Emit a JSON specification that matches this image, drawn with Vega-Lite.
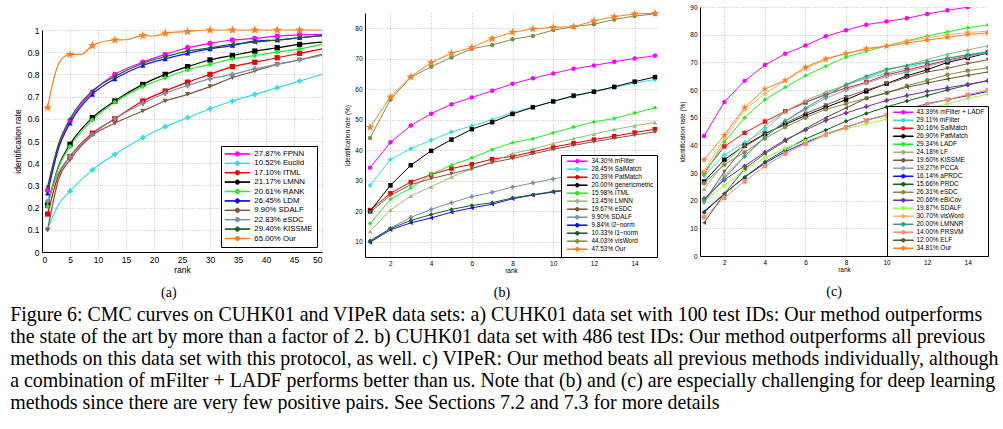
{
  "$schema": "https://vega.github.io/schema/vega-lite/v6.json",
  "padding": {"left": 10, "top": 4, "right": 0, "bottom": 0},
  "background": "white",
  "spacing": 19,
  "resolve": {"scale": {"color": "independent", "shape": "independent", "x": "independent", "y": "independent"}, "legend": {"color": "independent", "shape": "independent"}},
  "title": {
    "text": [
      "Figure 6: CMC curves on CUHK01 and VIPeR data sets: a) CUHK01 data set with 100 test IDs: Our method outperforms",
      "the state of the art by more than a factor of 2. b) CUHK01 data set with 486 test IDs: Our method outperforms all previous",
      "methods on this data set with this protocol, as well. c) VIPeR: Our method beats all previous methods individually, although",
      "a combination of mFilter + LADF performs better than us. Note that (b) and (c) are especially challenging for deep learning",
      "methods since there are very few positive pairs. See Sections 7.2 and 7.3 for more details"
    ],
    "orient": "bottom",
    "anchor": "start",
    "font": "Liberation Serif",
    "fontSize": 19.9,
    "fontWeight": "normal",
    "lineHeight": 22,
    "offset": 5,
    "dx": -3,
    "color": "black"
  },
  "config": {
    "view": {"stroke": null},
    "axis": {
      "labelFont": "Liberation Sans",
      "titleFont": "Liberation Sans",
      "titleFontWeight": "normal",
      "labelColor": "black",
      "titleColor": "black",
      "domainColor": "black",
      "tickColor": "black",
      "ticks": false,
      "gridColor": "#aaaaaa",
      "gridDash": [1, 2],
      "gridWidth": 0.8,
      "labelPadding": 3
    },
    "legend": {
      "labelFont": "Liberation Sans",
      "labelColor": "black",
      "fillColor": "white",
      "strokeColor": "black",
      "labelLimit": 0,
      "symbolStrokeWidth": 1
    }
  },
  "datasets": {
    "a": [
      {"method":"27.87% FPNN","rank":1,"rate":0.2787},{"method":"27.87% FPNN","rank":3,"rate":0.48},{"method":"27.87% FPNN","rank":5,"rate":0.59},{"method":"27.87% FPNN","rank":9,"rate":0.72},{"method":"27.87% FPNN","rank":13,"rate":0.8},{"method":"27.87% FPNN","rank":18,"rate":0.855},{"method":"27.87% FPNN","rank":22,"rate":0.89},{"method":"27.87% FPNN","rank":26,"rate":0.92},{"method":"27.87% FPNN","rank":30,"rate":0.94},{"method":"27.87% FPNN","rank":34,"rate":0.955},{"method":"27.87% FPNN","rank":38,"rate":0.962},{"method":"27.87% FPNN","rank":42,"rate":0.972},{"method":"27.87% FPNN","rank":46,"rate":0.978},{"method":"27.87% FPNN","rank":50,"rate":0.98},
      {"method":"10.52% Euclid","rank":1,"rate":0.1052},{"method":"10.52% Euclid","rank":3,"rate":0.215},{"method":"10.52% Euclid","rank":5,"rate":0.275},{"method":"10.52% Euclid","rank":9,"rate":0.37},{"method":"10.52% Euclid","rank":13,"rate":0.44},{"method":"10.52% Euclid","rank":18,"rate":0.515},{"method":"10.52% Euclid","rank":22,"rate":0.565},{"method":"10.52% Euclid","rank":26,"rate":0.605},{"method":"10.52% Euclid","rank":30,"rate":0.645},{"method":"10.52% Euclid","rank":34,"rate":0.68},{"method":"10.52% Euclid","rank":38,"rate":0.71},{"method":"10.52% Euclid","rank":42,"rate":0.74},{"method":"10.52% Euclid","rank":46,"rate":0.77},{"method":"10.52% Euclid","rank":50,"rate":0.8},
      {"method":"17.10% ITML","rank":1,"rate":0.171},{"method":"17.10% ITML","rank":3,"rate":0.35},{"method":"17.10% ITML","rank":5,"rate":0.43},{"method":"17.10% ITML","rank":9,"rate":0.535},{"method":"17.10% ITML","rank":13,"rate":0.6},{"method":"17.10% ITML","rank":18,"rate":0.68},{"method":"17.10% ITML","rank":22,"rate":0.725},{"method":"17.10% ITML","rank":26,"rate":0.765},{"method":"17.10% ITML","rank":30,"rate":0.8},{"method":"17.10% ITML","rank":34,"rate":0.835},{"method":"17.10% ITML","rank":38,"rate":0.855},{"method":"17.10% ITML","rank":42,"rate":0.875},{"method":"17.10% ITML","rank":46,"rate":0.895},{"method":"17.10% ITML","rank":50,"rate":0.915},
      {"method":"21.17% LMNN","rank":1,"rate":0.2117},{"method":"21.17% LMNN","rank":3,"rate":0.39},{"method":"21.17% LMNN","rank":5,"rate":0.485},{"method":"21.17% LMNN","rank":9,"rate":0.605},{"method":"21.17% LMNN","rank":13,"rate":0.68},{"method":"21.17% LMNN","rank":18,"rate":0.755},{"method":"21.17% LMNN","rank":22,"rate":0.8},{"method":"21.17% LMNN","rank":26,"rate":0.835},{"method":"21.17% LMNN","rank":30,"rate":0.865},{"method":"21.17% LMNN","rank":34,"rate":0.885},{"method":"21.17% LMNN","rank":38,"rate":0.905},{"method":"21.17% LMNN","rank":42,"rate":0.92},{"method":"21.17% LMNN","rank":46,"rate":0.935},{"method":"21.17% LMNN","rank":50,"rate":0.945},
      {"method":"20.61% RANK","rank":1,"rate":0.2061},{"method":"20.61% RANK","rank":3,"rate":0.385},{"method":"20.61% RANK","rank":5,"rate":0.475},{"method":"20.61% RANK","rank":9,"rate":0.595},{"method":"20.61% RANK","rank":13,"rate":0.675},{"method":"20.61% RANK","rank":18,"rate":0.745},{"method":"20.61% RANK","rank":22,"rate":0.785},{"method":"20.61% RANK","rank":26,"rate":0.82},{"method":"20.61% RANK","rank":30,"rate":0.845},{"method":"20.61% RANK","rank":34,"rate":0.87},{"method":"20.61% RANK","rank":38,"rate":0.885},{"method":"20.61% RANK","rank":42,"rate":0.9},{"method":"20.61% RANK","rank":46,"rate":0.915},{"method":"20.61% RANK","rank":50,"rate":0.935},
      {"method":"26.45% LDM","rank":1,"rate":0.2645},{"method":"26.45% LDM","rank":3,"rate":0.47},{"method":"26.45% LDM","rank":5,"rate":0.58},{"method":"26.45% LDM","rank":9,"rate":0.71},{"method":"26.45% LDM","rank":13,"rate":0.78},{"method":"26.45% LDM","rank":18,"rate":0.84},{"method":"26.45% LDM","rank":22,"rate":0.87},{"method":"26.45% LDM","rank":26,"rate":0.895},{"method":"26.45% LDM","rank":30,"rate":0.915},{"method":"26.45% LDM","rank":34,"rate":0.93},{"method":"26.45% LDM","rank":38,"rate":0.95},{"method":"26.45% LDM","rank":42,"rate":0.955},{"method":"26.45% LDM","rank":46,"rate":0.965},{"method":"26.45% LDM","rank":50,"rate":0.975},
      {"method":" 9.90% SDALF","rank":1,"rate":0.099},{"method":" 9.90% SDALF","rank":3,"rate":0.33},{"method":" 9.90% SDALF","rank":5,"rate":0.415},{"method":" 9.90% SDALF","rank":9,"rate":0.525},{"method":" 9.90% SDALF","rank":13,"rate":0.58},{"method":" 9.90% SDALF","rank":18,"rate":0.635},{"method":" 9.90% SDALF","rank":22,"rate":0.68},{"method":" 9.90% SDALF","rank":26,"rate":0.71},{"method":" 9.90% SDALF","rank":30,"rate":0.745},{"method":" 9.90% SDALF","rank":34,"rate":0.785},{"method":" 9.90% SDALF","rank":38,"rate":0.815},{"method":" 9.90% SDALF","rank":42,"rate":0.845},{"method":" 9.90% SDALF","rank":46,"rate":0.865},{"method":" 9.90% SDALF","rank":50,"rate":0.89},
      {"method":"22.83% eSDC","rank":1,"rate":0.2283},{"method":"22.83% eSDC","rank":3,"rate":0.36},{"method":"22.83% eSDC","rank":5,"rate":0.43},{"method":"22.83% eSDC","rank":9,"rate":0.53},{"method":"22.83% eSDC","rank":13,"rate":0.6},{"method":"22.83% eSDC","rank":18,"rate":0.67},{"method":"22.83% eSDC","rank":22,"rate":0.715},{"method":"22.83% eSDC","rank":26,"rate":0.75},{"method":"22.83% eSDC","rank":30,"rate":0.78},{"method":"22.83% eSDC","rank":34,"rate":0.8},{"method":"22.83% eSDC","rank":38,"rate":0.825},{"method":"22.83% eSDC","rank":42,"rate":0.845},{"method":"22.83% eSDC","rank":46,"rate":0.865},{"method":"22.83% eSDC","rank":50,"rate":0.885},
      {"method":"29.40% KISSME","rank":1,"rate":0.294},{"method":"29.40% KISSME","rank":3,"rate":0.49},{"method":"29.40% KISSME","rank":5,"rate":0.6},{"method":"29.40% KISSME","rank":9,"rate":0.725},{"method":"29.40% KISSME","rank":13,"rate":0.79},{"method":"29.40% KISSME","rank":18,"rate":0.85},{"method":"29.40% KISSME","rank":22,"rate":0.88},{"method":"29.40% KISSME","rank":26,"rate":0.905},{"method":"29.40% KISSME","rank":30,"rate":0.92},{"method":"29.40% KISSME","rank":34,"rate":0.935},{"method":"29.40% KISSME","rank":38,"rate":0.945},{"method":"29.40% KISSME","rank":42,"rate":0.955},{"method":"29.40% KISSME","rank":46,"rate":0.965},{"method":"29.40% KISSME","rank":50,"rate":0.975},
      {"method":"65.00% Our","rank":1,"rate":0.65},{"method":"65.00% Our","rank":2,"rate":0.77},{"method":"65.00% Our","rank":3,"rate":0.85},{"method":"65.00% Our","rank":4,"rate":0.88},{"method":"65.00% Our","rank":5,"rate":0.89},{"method":"65.00% Our","rank":7,"rate":0.89},{"method":"65.00% Our","rank":9,"rate":0.93},{"method":"65.00% Our","rank":13,"rate":0.955},{"method":"65.00% Our","rank":15,"rate":0.956},{"method":"65.00% Our","rank":18,"rate":0.975},{"method":"65.00% Our","rank":20,"rate":0.973},{"method":"65.00% Our","rank":22,"rate":0.985},{"method":"65.00% Our","rank":26,"rate":0.993},{"method":"65.00% Our","rank":30,"rate":1.0},{"method":"65.00% Our","rank":34,"rate":1.0},{"method":"65.00% Our","rank":38,"rate":1.0},{"method":"65.00% Our","rank":42,"rate":1.0},{"method":"65.00% Our","rank":46,"rate":1.0},{"method":"65.00% Our","rank":50,"rate":1.0}
    ],
    "b": [
      {"method":"34.30% mFilter","rank":1,"rate":34.3},{"method":"34.30% mFilter","rank":2,"rate":42.6},{"method":"34.30% mFilter","rank":3,"rate":48.1},{"method":"34.30% mFilter","rank":4,"rate":52.0},{"method":"34.30% mFilter","rank":5,"rate":55.1},{"method":"34.30% mFilter","rank":6,"rate":57.3},{"method":"34.30% mFilter","rank":7,"rate":59.5},{"method":"34.30% mFilter","rank":8,"rate":61.8},{"method":"34.30% mFilter","rank":9,"rate":63.6},{"method":"34.30% mFilter","rank":10,"rate":65.2},{"method":"34.30% mFilter","rank":11,"rate":66.7},{"method":"34.30% mFilter","rank":12,"rate":67.8},{"method":"34.30% mFilter","rank":13,"rate":69.0},{"method":"34.30% mFilter","rank":14,"rate":70.1},{"method":"34.30% mFilter","rank":15,"rate":71.0},
      {"method":"28.45% SalMatch","rank":1,"rate":28.45},{"method":"28.45% SalMatch","rank":2,"rate":37.0},{"method":"28.45% SalMatch","rank":3,"rate":40.5},{"method":"28.45% SalMatch","rank":4,"rate":43.3},{"method":"28.45% SalMatch","rank":5,"rate":46.0},{"method":"28.45% SalMatch","rank":6,"rate":48.0},{"method":"28.45% SalMatch","rank":7,"rate":50.0},{"method":"28.45% SalMatch","rank":8,"rate":52.4},{"method":"28.45% SalMatch","rank":9,"rate":54.2},{"method":"28.45% SalMatch","rank":10,"rate":56.0},{"method":"28.45% SalMatch","rank":11,"rate":57.6},{"method":"28.45% SalMatch","rank":12,"rate":59.2},{"method":"28.45% SalMatch","rank":13,"rate":60.6},{"method":"28.45% SalMatch","rank":14,"rate":62.0},{"method":"28.45% SalMatch","rank":15,"rate":63.2},
      {"method":"20.39% PatMatch","rank":1,"rate":20.39},{"method":"20.39% PatMatch","rank":2,"rate":25.9},{"method":"20.39% PatMatch","rank":3,"rate":29.6},{"method":"20.39% PatMatch","rank":4,"rate":32.0},{"method":"20.39% PatMatch","rank":5,"rate":34.0},{"method":"20.39% PatMatch","rank":6,"rate":35.4},{"method":"20.39% PatMatch","rank":7,"rate":37.1},{"method":"20.39% PatMatch","rank":8,"rate":38.0},{"method":"20.39% PatMatch","rank":9,"rate":39.5},{"method":"20.39% PatMatch","rank":10,"rate":41.0},{"method":"20.39% PatMatch","rank":11,"rate":42.3},{"method":"20.39% PatMatch","rank":12,"rate":43.5},{"method":"20.39% PatMatch","rank":13,"rate":44.6},{"method":"20.39% PatMatch","rank":14,"rate":45.8},{"method":"20.39% PatMatch","rank":15,"rate":46.9},
      {"method":"20.00% genericmetric","rank":1,"rate":20.0},{"method":"20.00% genericmetric","rank":2,"rate":28.5},{"method":"20.00% genericmetric","rank":3,"rate":35.1},{"method":"20.00% genericmetric","rank":4,"rate":39.8},{"method":"20.00% genericmetric","rank":5,"rate":43.5},{"method":"20.00% genericmetric","rank":6,"rate":46.9},{"method":"20.00% genericmetric","rank":7,"rate":49.2},{"method":"20.00% genericmetric","rank":8,"rate":51.9},{"method":"20.00% genericmetric","rank":9,"rate":54.1},{"method":"20.00% genericmetric","rank":10,"rate":56.0},{"method":"20.00% genericmetric","rank":11,"rate":57.9},{"method":"20.00% genericmetric","rank":12,"rate":59.2},{"method":"20.00% genericmetric","rank":13,"rate":60.8},{"method":"20.00% genericmetric","rank":14,"rate":62.5},{"method":"20.00% genericmetric","rank":15,"rate":64.0},
      {"method":"15.98% ITML","rank":1,"rate":15.98},{"method":"15.98% ITML","rank":2,"rate":23.9},{"method":"15.98% ITML","rank":3,"rate":27.6},{"method":"15.98% ITML","rank":4,"rate":32.1},{"method":"15.98% ITML","rank":5,"rate":35.1},{"method":"15.98% ITML","rank":6,"rate":37.5},{"method":"15.98% ITML","rank":7,"rate":40.2},{"method":"15.98% ITML","rank":8,"rate":42.5},{"method":"15.98% ITML","rank":9,"rate":43.8},{"method":"15.98% ITML","rank":10,"rate":45.7},{"method":"15.98% ITML","rank":11,"rate":47.6},{"method":"15.98% ITML","rank":12,"rate":49.3},{"method":"15.98% ITML","rank":13,"rate":50.4},{"method":"15.98% ITML","rank":14,"rate":52.2},{"method":"15.98% ITML","rank":15,"rate":53.9},
      {"method":"13.45% LMNN","rank":1,"rate":13.45},{"method":"13.45% LMNN","rank":2,"rate":20.4},{"method":"13.45% LMNN","rank":3,"rate":25.0},{"method":"13.45% LMNN","rank":4,"rate":28.0},{"method":"13.45% LMNN","rank":5,"rate":31.2},{"method":"13.45% LMNN","rank":6,"rate":33.9},{"method":"13.45% LMNN","rank":7,"rate":36.2},{"method":"13.45% LMNN","rank":8,"rate":38.9},{"method":"13.45% LMNN","rank":9,"rate":40.4},{"method":"13.45% LMNN","rank":10,"rate":42.2},{"method":"13.45% LMNN","rank":11,"rate":43.8},{"method":"13.45% LMNN","rank":12,"rate":45.3},{"method":"13.45% LMNN","rank":13,"rate":46.8},{"method":"13.45% LMNN","rank":14,"rate":48.0},{"method":"13.45% LMNN","rank":15,"rate":49.1},
      {"method":"19.67% eSDC","rank":1,"rate":19.67},{"method":"19.67% eSDC","rank":2,"rate":25.2},{"method":"19.67% eSDC","rank":3,"rate":28.7},{"method":"19.67% eSDC","rank":4,"rate":30.7},{"method":"19.67% eSDC","rank":5,"rate":32.3},{"method":"19.67% eSDC","rank":6,"rate":34.0},{"method":"19.67% eSDC","rank":7,"rate":36.0},{"method":"19.67% eSDC","rank":8,"rate":37.3},{"method":"19.67% eSDC","rank":9,"rate":38.8},{"method":"19.67% eSDC","rank":10,"rate":40.3},{"method":"19.67% eSDC","rank":11,"rate":41.6},{"method":"19.67% eSDC","rank":12,"rate":42.8},{"method":"19.67% eSDC","rank":13,"rate":43.9},{"method":"19.67% eSDC","rank":14,"rate":45.0},{"method":"19.67% eSDC","rank":15,"rate":46.0},
      {"method":" 9.90% SDALF","rank":1,"rate":9.9},{"method":" 9.90% SDALF","rank":2,"rate":14.5},{"method":" 9.90% SDALF","rank":3,"rate":18.0},{"method":" 9.90% SDALF","rank":4,"rate":20.6},{"method":" 9.90% SDALF","rank":5,"rate":22.8},{"method":" 9.90% SDALF","rank":6,"rate":24.8},{"method":" 9.90% SDALF","rank":7,"rate":26.2},{"method":" 9.90% SDALF","rank":8,"rate":27.9},{"method":" 9.90% SDALF","rank":9,"rate":29.3},{"method":" 9.90% SDALF","rank":10,"rate":30.6},{"method":" 9.90% SDALF","rank":11,"rate":31.8},{"method":" 9.90% SDALF","rank":12,"rate":32.8},{"method":" 9.90% SDALF","rank":13,"rate":33.8},{"method":" 9.90% SDALF","rank":14,"rate":34.7},{"method":" 9.90% SDALF","rank":15,"rate":35.5},
      {"method":" 9.84% l2−norm","rank":1,"rate":9.84},{"method":" 9.84% l2−norm","rank":2,"rate":13.9},{"method":" 9.84% l2−norm","rank":3,"rate":16.2},{"method":" 9.84% l2−norm","rank":4,"rate":17.8},{"method":" 9.84% l2−norm","rank":5,"rate":19.7},{"method":" 9.84% l2−norm","rank":6,"rate":21.1},{"method":" 9.84% l2−norm","rank":7,"rate":22.3},{"method":" 9.84% l2−norm","rank":8,"rate":24.1},{"method":" 9.84% l2−norm","rank":9,"rate":25.3},{"method":" 9.84% l2−norm","rank":10,"rate":26.3},{"method":" 9.84% l2−norm","rank":11,"rate":27.2},{"method":" 9.84% l2−norm","rank":12,"rate":28.0},{"method":" 9.84% l2−norm","rank":13,"rate":28.8},{"method":" 9.84% l2−norm","rank":14,"rate":29.5},{"method":" 9.84% l2−norm","rank":15,"rate":30.2},
      {"method":"10.33% l1−norm","rank":1,"rate":10.33},{"method":"10.33% l1−norm","rank":2,"rate":14.3},{"method":"10.33% l1−norm","rank":3,"rate":17.0},{"method":"10.33% l1−norm","rank":4,"rate":18.9},{"method":"10.33% l1−norm","rank":5,"rate":20.6},{"method":"10.33% l1−norm","rank":6,"rate":21.9},{"method":"10.33% l1−norm","rank":7,"rate":22.8},{"method":"10.33% l1−norm","rank":8,"rate":24.4},{"method":"10.33% l1−norm","rank":9,"rate":25.4},{"method":"10.33% l1−norm","rank":10,"rate":26.5},{"method":"10.33% l1−norm","rank":11,"rate":27.3},{"method":"10.33% l1−norm","rank":12,"rate":28.2},{"method":"10.33% l1−norm","rank":13,"rate":29.0},{"method":"10.33% l1−norm","rank":14,"rate":29.8},{"method":"10.33% l1−norm","rank":15,"rate":30.5},
      {"method":"44.03% visWord","rank":1,"rate":44.03},{"method":"44.03% visWord","rank":2,"rate":56.6},{"method":"44.03% visWord","rank":3,"rate":63.9},{"method":"44.03% visWord","rank":4,"rate":67.4},{"method":"44.03% visWord","rank":5,"rate":70.4},{"method":"44.03% visWord","rank":6,"rate":73.3},{"method":"44.03% visWord","rank":7,"rate":74.5},{"method":"44.03% visWord","rank":8,"rate":76.4},{"method":"44.03% visWord","rank":9,"rate":77.5},{"method":"44.03% visWord","rank":10,"rate":79.4},{"method":"44.03% visWord","rank":11,"rate":80.5},{"method":"44.03% visWord","rank":12,"rate":81.3},{"method":"44.03% visWord","rank":13,"rate":82.9},{"method":"44.03% visWord","rank":14,"rate":84.0},{"method":"44.03% visWord","rank":15,"rate":84.7},
      {"method":"47.53% Our","rank":1,"rate":47.53},{"method":"47.53% Our","rank":2,"rate":57.5},{"method":"47.53% Our","rank":3,"rate":64.1},{"method":"47.53% Our","rank":4,"rate":68.8},{"method":"47.53% Our","rank":5,"rate":71.8},{"method":"47.53% Our","rank":6,"rate":73.7},{"method":"47.53% Our","rank":7,"rate":76.6},{"method":"47.53% Our","rank":8,"rate":78.7},{"method":"47.53% Our","rank":9,"rate":79.8},{"method":"47.53% Our","rank":10,"rate":80.3},{"method":"47.53% Our","rank":11,"rate":80.5},{"method":"47.53% Our","rank":12,"rate":82.4},{"method":"47.53% Our","rank":13,"rate":83.8},{"method":"47.53% Our","rank":14,"rate":84.7},{"method":"47.53% Our","rank":15,"rate":84.9}
    ],
    "c": [
      {"method":"43.39% mFilter + LADF","rank":1,"rate":43.4},{"method":"43.39% mFilter + LADF","rank":2,"rate":55.7},{"method":"43.39% mFilter + LADF","rank":3,"rate":63.3},{"method":"43.39% mFilter + LADF","rank":4,"rate":69.0},{"method":"43.39% mFilter + LADF","rank":5,"rate":73.1},{"method":"43.39% mFilter + LADF","rank":6,"rate":76.1},{"method":"43.39% mFilter + LADF","rank":7,"rate":79.4},{"method":"43.39% mFilter + LADF","rank":8,"rate":81.6},{"method":"43.39% mFilter + LADF","rank":9,"rate":83.6},{"method":"43.39% mFilter + LADF","rank":10,"rate":84.8},{"method":"43.39% mFilter + LADF","rank":11,"rate":85.9},{"method":"43.39% mFilter + LADF","rank":12,"rate":87.5},{"method":"43.39% mFilter + LADF","rank":13,"rate":88.8},{"method":"43.39% mFilter + LADF","rank":14,"rate":89.9},
      {"method":"29.11% mFilter","rank":1,"rate":29.1},{"method":"29.11% mFilter","rank":2,"rate":36.5},{"method":"29.11% mFilter","rank":3,"rate":41.0},{"method":"29.11% mFilter","rank":4,"rate":45.5},{"method":"29.11% mFilter","rank":5,"rate":52.3},{"method":"29.11% mFilter","rank":6,"rate":55.5},{"method":"29.11% mFilter","rank":7,"rate":58.8},{"method":"29.11% mFilter","rank":8,"rate":61.8},{"method":"29.11% mFilter","rank":9,"rate":64.2},{"method":"29.11% mFilter","rank":10,"rate":66.0},{"method":"29.11% mFilter","rank":11,"rate":68.0},{"method":"29.11% mFilter","rank":12,"rate":70.0},{"method":"29.11% mFilter","rank":13,"rate":71.5},{"method":"29.11% mFilter","rank":14,"rate":72.8},{"method":"29.11% mFilter","rank":15,"rate":74.0},
      {"method":"30.16% SalMatch","rank":1,"rate":30.2},{"method":"30.16% SalMatch","rank":2,"rate":39.6},{"method":"30.16% SalMatch","rank":3,"rate":44.5},{"method":"30.16% SalMatch","rank":4,"rate":48.6},{"method":"30.16% SalMatch","rank":5,"rate":52.3},{"method":"30.16% SalMatch","rank":6,"rate":55.5},{"method":"30.16% SalMatch","rank":7,"rate":58.3},{"method":"30.16% SalMatch","rank":8,"rate":60.7},{"method":"30.16% SalMatch","rank":9,"rate":62.8},{"method":"30.16% SalMatch","rank":10,"rate":65.5},{"method":"30.16% SalMatch","rank":11,"rate":67.2},{"method":"30.16% SalMatch","rank":12,"rate":69.0},{"method":"30.16% SalMatch","rank":13,"rate":70.8},{"method":"30.16% SalMatch","rank":14,"rate":72.3},{"method":"30.16% SalMatch","rank":15,"rate":73.5},
      {"method":"26.90% PatMatch","rank":1,"rate":26.9},{"method":"26.90% PatMatch","rank":2,"rate":34.8},{"method":"26.90% PatMatch","rank":3,"rate":39.9},{"method":"26.90% PatMatch","rank":4,"rate":44.2},{"method":"26.90% PatMatch","rank":5,"rate":47.5},{"method":"26.90% PatMatch","rank":6,"rate":50.8},{"method":"26.90% PatMatch","rank":7,"rate":53.7},{"method":"26.90% PatMatch","rank":8,"rate":56.5},{"method":"26.90% PatMatch","rank":9,"rate":59.5},{"method":"26.90% PatMatch","rank":10,"rate":62.3},{"method":"26.90% PatMatch","rank":11,"rate":65.1},{"method":"26.90% PatMatch","rank":12,"rate":67.3},{"method":"26.90% PatMatch","rank":13,"rate":70.0},{"method":"26.90% PatMatch","rank":14,"rate":71.6},{"method":"26.90% PatMatch","rank":15,"rate":73.4},
      {"method":"29.34% LADF","rank":1,"rate":29.3},{"method":"29.34% LADF","rank":2,"rate":41.2},{"method":"29.34% LADF","rank":3,"rate":50.0},{"method":"29.34% LADF","rank":4,"rate":56.5},{"method":"29.34% LADF","rank":5,"rate":61.0},{"method":"29.34% LADF","rank":6,"rate":65.2},{"method":"29.34% LADF","rank":7,"rate":68.6},{"method":"29.34% LADF","rank":8,"rate":71.9},{"method":"29.34% LADF","rank":9,"rate":74.0},{"method":"29.34% LADF","rank":10,"rate":76.0},{"method":"29.34% LADF","rank":11,"rate":77.8},{"method":"29.34% LADF","rank":12,"rate":79.5},{"method":"29.34% LADF","rank":13,"rate":81.0},{"method":"29.34% LADF","rank":14,"rate":82.5},{"method":"29.34% LADF","rank":15,"rate":83.5},
      {"method":"24.18% LF","rank":1,"rate":24.2},{"method":"24.18% LF","rank":2,"rate":33.6},{"method":"24.18% LF","rank":3,"rate":40.2},{"method":"24.18% LF","rank":4,"rate":46.9},{"method":"24.18% LF","rank":5,"rate":52.3},{"method":"24.18% LF","rank":6,"rate":56.1},{"method":"24.18% LF","rank":7,"rate":59.3},{"method":"24.18% LF","rank":8,"rate":61.7},{"method":"24.18% LF","rank":9,"rate":64.5},{"method":"24.18% LF","rank":10,"rate":67.1},{"method":"24.18% LF","rank":11,"rate":69.0},{"method":"24.18% LF","rank":12,"rate":71.0},{"method":"24.18% LF","rank":13,"rate":73.0},{"method":"24.18% LF","rank":14,"rate":74.5},{"method":"24.18% LF","rank":15,"rate":76.0},
      {"method":"19.60% KISSME","rank":1,"rate":19.6},{"method":"19.60% KISSME","rank":2,"rate":30.5},{"method":"19.60% KISSME","rank":3,"rate":39.5},{"method":"19.60% KISSME","rank":4,"rate":44.0},{"method":"19.60% KISSME","rank":5,"rate":48.0},{"method":"19.60% KISSME","rank":6,"rate":51.5},{"method":"19.60% KISSME","rank":7,"rate":54.5},{"method":"19.60% KISSME","rank":8,"rate":57.5},{"method":"19.60% KISSME","rank":9,"rate":60.0},{"method":"19.60% KISSME","rank":10,"rate":62.2},{"method":"19.60% KISSME","rank":11,"rate":64.5},{"method":"19.60% KISSME","rank":12,"rate":66.5},{"method":"19.60% KISSME","rank":13,"rate":67.8},{"method":"19.60% KISSME","rank":14,"rate":69.5},{"method":"19.60% KISSME","rank":15,"rate":71.0},
      {"method":"19.27% PCCA","rank":1,"rate":19.3},{"method":"19.27% PCCA","rank":2,"rate":29.0},{"method":"19.27% PCCA","rank":3,"rate":36.0},{"method":"19.27% PCCA","rank":4,"rate":43.0},{"method":"19.27% PCCA","rank":5,"rate":48.9},{"method":"19.27% PCCA","rank":6,"rate":53.0},{"method":"19.27% PCCA","rank":7,"rate":57.0},{"method":"19.27% PCCA","rank":8,"rate":60.0},{"method":"19.27% PCCA","rank":9,"rate":62.5},{"method":"19.27% PCCA","rank":10,"rate":64.9},{"method":"19.27% PCCA","rank":11,"rate":66.5},{"method":"19.27% PCCA","rank":12,"rate":68.5},{"method":"19.27% PCCA","rank":13,"rate":70.5},{"method":"19.27% PCCA","rank":14,"rate":72.0},{"method":"19.27% PCCA","rank":15,"rate":73.5},
      {"method":"16.14% aPRDC","rank":1,"rate":16.1},{"method":"16.14% aPRDC","rank":2,"rate":22.5},{"method":"16.14% aPRDC","rank":3,"rate":28.5},{"method":"16.14% aPRDC","rank":4,"rate":33.5},{"method":"16.14% aPRDC","rank":5,"rate":37.7},{"method":"16.14% aPRDC","rank":6,"rate":41.0},{"method":"16.14% aPRDC","rank":7,"rate":44.0},{"method":"16.14% aPRDC","rank":8,"rate":46.5},{"method":"16.14% aPRDC","rank":9,"rate":49.0},{"method":"16.14% aPRDC","rank":10,"rate":51.0},{"method":"16.14% aPRDC","rank":11,"rate":53.0},{"method":"16.14% aPRDC","rank":12,"rate":55.0},{"method":"16.14% aPRDC","rank":13,"rate":56.5},{"method":"16.14% aPRDC","rank":14,"rate":58.0},{"method":"16.14% aPRDC","rank":15,"rate":59.5},
      {"method":"15.66% PRDC","rank":1,"rate":15.7},{"method":"15.66% PRDC","rank":2,"rate":22.5},{"method":"15.66% PRDC","rank":3,"rate":28.5},{"method":"15.66% PRDC","rank":4,"rate":34.0},{"method":"15.66% PRDC","rank":5,"rate":38.4},{"method":"15.66% PRDC","rank":6,"rate":42.3},{"method":"15.66% PRDC","rank":7,"rate":45.5},{"method":"15.66% PRDC","rank":8,"rate":48.7},{"method":"15.66% PRDC","rank":9,"rate":51.5},{"method":"15.66% PRDC","rank":10,"rate":53.9},{"method":"15.66% PRDC","rank":11,"rate":56.0},{"method":"15.66% PRDC","rank":12,"rate":58.0},{"method":"15.66% PRDC","rank":13,"rate":60.0},{"method":"15.66% PRDC","rank":14,"rate":61.8},{"method":"15.66% PRDC","rank":15,"rate":63.5},
      {"method":"26.31% eSDC","rank":1,"rate":26.3},{"method":"26.31% eSDC","rank":2,"rate":33.0},{"method":"26.31% eSDC","rank":3,"rate":37.5},{"method":"26.31% eSDC","rank":4,"rate":42.5},{"method":"26.31% eSDC","rank":5,"rate":46.6},{"method":"26.31% eSDC","rank":6,"rate":50.0},{"method":"26.31% eSDC","rank":7,"rate":53.0},{"method":"26.31% eSDC","rank":8,"rate":55.0},{"method":"26.31% eSDC","rank":9,"rate":57.0},{"method":"26.31% eSDC","rank":10,"rate":58.9},{"method":"26.31% eSDC","rank":11,"rate":61.5},{"method":"26.31% eSDC","rank":12,"rate":63.5},{"method":"26.31% eSDC","rank":13,"rate":65.5},{"method":"26.31% eSDC","rank":14,"rate":67.0},{"method":"26.31% eSDC","rank":15,"rate":68.0},
      {"method":"20.66% eBiCov","rank":1,"rate":20.7},{"method":"20.66% eBiCov","rank":2,"rate":27.5},{"method":"20.66% eBiCov","rank":3,"rate":32.5},{"method":"20.66% eBiCov","rank":4,"rate":37.5},{"method":"20.66% eBiCov","rank":5,"rate":42.0},{"method":"20.66% eBiCov","rank":6,"rate":45.5},{"method":"20.66% eBiCov","rank":7,"rate":49.0},{"method":"20.66% eBiCov","rank":8,"rate":51.7},{"method":"20.66% eBiCov","rank":9,"rate":54.0},{"method":"20.66% eBiCov","rank":10,"rate":56.2},{"method":"20.66% eBiCov","rank":11,"rate":58.0},{"method":"20.66% eBiCov","rank":12,"rate":59.5},{"method":"20.66% eBiCov","rank":13,"rate":60.8},{"method":"20.66% eBiCov","rank":14,"rate":62.0},{"method":"20.66% eBiCov","rank":15,"rate":63.3},
      {"method":"19.87% SDALF","rank":1,"rate":19.9},{"method":"19.87% SDALF","rank":2,"rate":25.5},{"method":"19.87% SDALF","rank":3,"rate":31.0},{"method":"19.87% SDALF","rank":4,"rate":35.5},{"method":"19.87% SDALF","rank":5,"rate":38.9},{"method":"19.87% SDALF","rank":6,"rate":41.5},{"method":"19.87% SDALF","rank":7,"rate":44.0},{"method":"19.87% SDALF","rank":8,"rate":46.0},{"method":"19.87% SDALF","rank":9,"rate":47.8},{"method":"19.87% SDALF","rank":10,"rate":49.4},{"method":"19.87% SDALF","rank":11,"rate":51.5},{"method":"19.87% SDALF","rank":12,"rate":53.3},{"method":"19.87% SDALF","rank":13,"rate":55.0},{"method":"19.87% SDALF","rank":14,"rate":57.0},{"method":"19.87% SDALF","rank":15,"rate":58.5},
      {"method":"30.70% visWord","rank":1,"rate":30.7},{"method":"30.70% visWord","rank":2,"rate":42.5},{"method":"30.70% visWord","rank":3,"rate":52.9},{"method":"30.70% visWord","rank":4,"rate":58.6},{"method":"30.70% visWord","rank":5,"rate":63.4},{"method":"30.70% visWord","rank":6,"rate":67.7},{"method":"30.70% visWord","rank":7,"rate":71.0},{"method":"30.70% visWord","rank":8,"rate":73.2},{"method":"30.70% visWord","rank":9,"rate":74.6},{"method":"30.70% visWord","rank":10,"rate":76.0},{"method":"30.70% visWord","rank":11,"rate":77.6},{"method":"30.70% visWord","rank":12,"rate":78.9},{"method":"30.70% visWord","rank":13,"rate":80.0},{"method":"30.70% visWord","rank":14,"rate":80.8},{"method":"30.70% visWord","rank":15,"rate":81.2},
      {"method":"20.00% LMNNR","rank":1,"rate":20.0},{"method":"20.00% LMNNR","rank":2,"rate":28.0},{"method":"20.00% LMNNR","rank":3,"rate":36.0},{"method":"20.00% LMNNR","rank":4,"rate":43.0},{"method":"20.00% LMNNR","rank":5,"rate":48.7},{"method":"20.00% LMNNR","rank":6,"rate":53.5},{"method":"20.00% LMNNR","rank":7,"rate":57.8},{"method":"20.00% LMNNR","rank":8,"rate":62.0},{"method":"20.00% LMNNR","rank":9,"rate":65.0},{"method":"20.00% LMNNR","rank":10,"rate":67.5},{"method":"20.00% LMNNR","rank":11,"rate":68.8},{"method":"20.00% LMNNR","rank":12,"rate":70.2},{"method":"20.00% LMNNR","rank":13,"rate":71.5},{"method":"20.00% LMNNR","rank":14,"rate":72.7},{"method":"20.00% LMNNR","rank":15,"rate":73.7},
      {"method":"14.00% PRSVM","rank":1,"rate":14.0},{"method":"14.00% PRSVM","rank":2,"rate":21.0},{"method":"14.00% PRSVM","rank":3,"rate":27.0},{"method":"14.00% PRSVM","rank":4,"rate":32.5},{"method":"14.00% PRSVM","rank":5,"rate":37.0},{"method":"14.00% PRSVM","rank":6,"rate":40.5},{"method":"14.00% PRSVM","rank":7,"rate":43.8},{"method":"14.00% PRSVM","rank":8,"rate":46.5},{"method":"14.00% PRSVM","rank":9,"rate":49.0},{"method":"14.00% PRSVM","rank":10,"rate":51.0},{"method":"14.00% PRSVM","rank":11,"rate":53.0},{"method":"14.00% PRSVM","rank":12,"rate":54.8},{"method":"14.00% PRSVM","rank":13,"rate":56.5},{"method":"14.00% PRSVM","rank":14,"rate":58.3},{"method":"14.00% PRSVM","rank":15,"rate":60.0},
      {"method":"12.00% ELF","rank":1,"rate":12.0},{"method":"12.00% ELF","rank":2,"rate":22.5},{"method":"12.00% ELF","rank":3,"rate":31.5},{"method":"12.00% ELF","rank":4,"rate":37.0},{"method":"12.00% ELF","rank":5,"rate":41.5},{"method":"12.00% ELF","rank":6,"rate":46.0},{"method":"12.00% ELF","rank":7,"rate":50.0},{"method":"12.00% ELF","rank":8,"rate":53.5},{"method":"12.00% ELF","rank":9,"rate":57.0},{"method":"12.00% ELF","rank":10,"rate":59.0},{"method":"12.00% ELF","rank":11,"rate":61.0},{"method":"12.00% ELF","rank":12,"rate":62.5},{"method":"12.00% ELF","rank":13,"rate":64.0},{"method":"12.00% ELF","rank":14,"rate":65.3},{"method":"12.00% ELF","rank":15,"rate":66.5},
      {"method":"34.81% Our","rank":1,"rate":34.8},{"method":"34.81% Our","rank":2,"rate":43.7},{"method":"34.81% Our","rank":3,"rate":53.7},{"method":"34.81% Our","rank":4,"rate":60.4},{"method":"34.81% Our","rank":5,"rate":63.5},{"method":"34.81% Our","rank":6,"rate":68.3},{"method":"34.81% Our","rank":7,"rate":71.3},{"method":"34.81% Our","rank":8,"rate":73.2},{"method":"34.81% Our","rank":9,"rate":75.0},{"method":"34.81% Our","rank":10,"rate":75.8},{"method":"34.81% Our","rank":11,"rate":77.0},{"method":"34.81% Our","rank":12,"rate":78.0},{"method":"34.81% Our","rank":13,"rate":79.0},{"method":"34.81% Our","rank":14,"rate":80.1},{"method":"34.81% Our","rank":15,"rate":80.6}
    ]
  },
  "hconcat": [
    {
      "title": {"text": "(a)", "orient": "bottom", "anchor": "middle", "font": "Liberation Serif", "fontSize": 14, "fontWeight": "normal", "offset": 12, "color": "black"},
      "resolve": {"scale": {"color": "independent", "shape": "independent"}, "legend": {"color": "independent", "shape": "independent"}},
      "spacing": 0,
      "vconcat": [
        {"width": 280, "height": 18, "data": {"values": [{}]}, "mark": {"type": "rule", "opacity": 0}, "encoding": {}},
        {
          "width": 280,
          "height": 222,
          "data": {"name": "a"},
          "encoding": {
            "x": {"field": "rank", "type": "quantitative", "scale": {"domain": [0, 50], "nice": false}, "axis": {"values": [0,5,10,15,20,25,30,35,40,45,50], "title": "rank", "labelFontSize": 8.5, "titleFontSize": 8.5, "titlePadding": 2}},
            "y": {"field": "rate", "type": "quantitative", "scale": {"domain": [0, 1], "nice": false}, "axis": {"values": [0,0.1,0.2,0.3,0.4,0.5,0.6,0.7,0.8,0.9,1], "format": "~g", "title": "identification rate", "labelFontSize": 8.5, "titleFontSize": 8.5, "titlePadding": 5}}
          },
          "layer": [
            {
              "mark": {"type": "line", "interpolate": "monotone", "strokeWidth": 1.2},
              "encoding": {
                "color": {
                  "field": "method", "type": "nominal",
                  "scale": {
                    "domain": ["27.87% FPNN","10.52% Euclid","17.10% ITML","21.17% LMNN","20.61% RANK","26.45% LDM"," 9.90% SDALF","22.83% eSDC","29.40% KISSME","65.00% Our"],
                    "range": ["#ff00ff","#33dde8","#ee0000","#000000","#22ee22","#1010ee","#80573f","#8090a0","#1c5e2c","#ff7f20"]
                  },
                  "legend": {"title": null, "orient": "bottom-right", "offset": 5, "padding": 4, "labelFontSize": 7.8, "rowPadding": -0.6, "symbolSize": 16, "symbolOffset": 8.5, "labelOffset": 13, "symbolType": "M-6.25,-0.12H6.25V0.12H-6.25ZM1.1,0A1.1,1.1 0 1,1 -1.1,0A1.1,1.1 0 1,1 1.1,0Z"}
                }
              }
            },
            {
              "transform": [{"filter": {"field": "rank", "oneOf": [1,5,9,13,18,22,26,30,34,38,42,46]}}],
              "mark": {"type": "point", "filled": true, "opacity": 1, "size": 28},
              "encoding": {
                "color": {"field": "method", "type": "nominal", "legend": null},
                "shape": {
                  "field": "method", "type": "nominal", "legend": null,
                  "scale": {
                    "domain": ["65.00% Our","27.87% FPNN","10.52% Euclid","17.10% ITML","21.17% LMNN","20.61% RANK","26.45% LDM"," 9.90% SDALF","22.83% eSDC","29.40% KISSME"],
                    "range": ["M0,-1.8L0.42,-0.58L1.71,-0.56L0.68,0.22L1.06,1.46L0,0.72L-1.06,1.46L-0.68,0.22L-1.71,-0.56L-0.42,-0.58Z","circle","cross","square","square","diamond","triangle-up","triangle-down","cross","triangle-left"]
                  }
                }
              }
            }
          ]
        }
      ]
    },
    {
      "title": {"text": "(b)", "orient": "bottom", "anchor": "middle", "font": "Liberation Serif", "fontSize": 14, "fontWeight": "normal", "offset": 12, "color": "black"},
      "resolve": {"scale": {"color": "independent", "shape": "independent"}, "legend": {"color": "independent", "shape": "independent"}},
      "spacing": 0,
      "vconcat": [
        {"width": 292, "height": 1, "data": {"values": [{}]}, "mark": {"type": "rule", "opacity": 0}, "encoding": {}},
        {
          "width": 292,
          "height": 244,
          "data": {"name": "b"},
          "encoding": {
            "x": {"field": "rank", "type": "quantitative", "scale": {"domain": [0.75, 15.1], "nice": false}, "axis": {"values": [2,4,6,8,10,12,14], "title": "rank", "labelFontSize": 6.5, "titleFontSize": 6.5, "titlePadding": 1}},
            "y": {"field": "rate", "type": "quantitative", "scale": {"domain": [5, 85], "nice": false}, "axis": {"values": [10,20,30,40,50,60,70,80], "title": "identification rate (%)", "labelFontSize": 6.5, "titleFontSize": 6.5, "titlePadding": 4}}
          },
          "layer": [
            {
              "mark": {"type": "line", "strokeWidth": 1},
              "encoding": {
                "color": {
                  "field": "method", "type": "nominal",
                  "scale": {
                    "domain": ["34.30% mFilter","28.45% SalMatch","20.39% PatMatch","20.00% genericmetric","15.98% ITML","13.45% LMNN","19.67% eSDC"," 9.90% SDALF"," 9.84% l2−norm","10.33% l1−norm","44.03% visWord","47.53% Our"],
                    "range": ["#ff00ff","#33dde8","#ee0000","#000000","#22ee22","#a0b878","#80573f","#8090a0","#1010ee","#1c5e2c","#8a8a48","#ff7f20"]
                  },
                  "legend": {"title": null, "orient": "bottom-right", "offset": 0, "padding": 3, "labelFontSize": 6.4, "rowPadding": -1.6, "symbolSize": 14, "symbolOffset": 10, "labelOffset": 11, "symbolType": "M-5.35,-0.12H5.35V0.12H-5.35ZM1,0A1,1 0 1,1 -1,0A1,1 0 1,1 1,0Z"}
                }
              }
            },
            {
              "mark": {"type": "point", "filled": true, "opacity": 1, "size": 20},
              "encoding": {
                "color": {"field": "method", "type": "nominal", "legend": null},
                "shape": {
                  "field": "method", "type": "nominal", "legend": null,
                  "scale": {
                    "domain": ["47.53% Our","34.30% mFilter","28.45% SalMatch","20.39% PatMatch","20.00% genericmetric","15.98% ITML","13.45% LMNN","19.67% eSDC"," 9.90% SDALF"," 9.84% l2−norm","10.33% l1−norm","44.03% visWord"],
                    "range": ["M0,-2L0.47,-0.65L1.9,-0.62L0.76,0.25L1.18,1.62L0,0.8L-1.18,1.62L-0.76,0.25L-1.9,-0.62L-0.47,-0.65Z","circle","cross","square","square","diamond","triangle-up","triangle-down","cross","triangle-left","diamond","circle"]
                  }
                }
              }
            }
          ]
        }
      ]
    },
    {
      "title": {"text": "(c)", "orient": "bottom", "anchor": "middle", "font": "Liberation Serif", "fontSize": 14, "fontWeight": "normal", "offset": 12, "color": "black"},
      "resolve": {"scale": {"color": "independent", "shape": "independent"}, "legend": {"color": "independent", "shape": "independent"}},
      "spacing": 0,
      "vconcat": [
        {
          "width": 288,
          "height": 249,
          "data": {"name": "c"},
          "encoding": {
            "x": {"field": "rank", "type": "quantitative", "scale": {"domain": [0.8, 15], "nice": false}, "axis": {"values": [2,4,6,8,10,12,14], "title": "rank", "labelFontSize": 6.5, "titleFontSize": 6.5, "titlePadding": 1}},
            "y": {"field": "rate", "type": "quantitative", "scale": {"domain": [0, 90], "nice": false}, "axis": {"values": [0,10,20,30,40,50,60,70,80,90], "title": "identification rate (%)", "labelFontSize": 6.5, "titleFontSize": 6.5, "titlePadding": 4}}
          },
          "layer": [
            {
              "mark": {"type": "line", "strokeWidth": 1, "clip": true},
              "encoding": {
                "color": {
                  "field": "method", "type": "nominal",
                  "scale": {
                    "domain": ["43.39% mFilter + LADF","29.11% mFilter","30.16% SalMatch","26.90% PatMatch","29.34% LADF","24.18% LF","19.60% KISSME","19.27% PCCA","16.14% aPRDC","15.66% PRDC","26.31% eSDC","20.66% eBiCov","19.87% SDALF","30.70% visWord","20.00% LMNNR","14.00% PRSVM","12.00% ELF","34.81% Our"],
                    "range": ["#ff00ff","#33dde8","#e02020","#000000","#22ee22","#a0b070","#80573f","#90a0b8","#1010ee","#106020","#8a8a48","#7030a0","#99ff44","#ffb070","#30a080","#ff8a70","#5a5a30","#ff7f20"]
                  },
                  "legend": {"title": null, "orient": "bottom-right", "offset": 0, "padding": 3, "labelFontSize": 6.5, "rowPadding": -1.6, "symbolSize": 14, "symbolOffset": 10, "labelOffset": 10, "symbolType": "M-5.35,-0.12H5.35V0.12H-5.35ZM1,0A1,1 0 1,1 -1,0A1,1 0 1,1 1,0Z"}
                }
              }
            },
            {
              "mark": {"type": "point", "filled": true, "opacity": 1, "size": 20, "clip": true},
              "encoding": {
                "color": {"field": "method", "type": "nominal", "legend": null},
                "shape": {
                  "field": "method", "type": "nominal", "legend": null,
                  "scale": {
                    "domain": ["34.81% Our","43.39% mFilter + LADF","29.11% mFilter","30.16% SalMatch","26.90% PatMatch","29.34% LADF","24.18% LF","19.60% KISSME","19.27% PCCA","16.14% aPRDC","15.66% PRDC","26.31% eSDC","20.66% eBiCov","19.87% SDALF","30.70% visWord","20.00% LMNNR","14.00% PRSVM","12.00% ELF"],
                    "range": ["M0,-1.6L0.38,-0.52L1.52,-0.5L0.61,0.2L0.94,1.3L0,0.64L-0.94,1.3L-0.61,0.2L-1.52,-0.5L-0.38,-0.52Z","circle","cross","square","square","diamond","triangle-up","triangle-down","cross","triangle-left","diamond","circle","cross","cross","M0,-1.6L0.38,-0.52L1.52,-0.5L0.61,0.2L0.94,1.3L0,0.64L-0.94,1.3L-0.61,0.2L-1.52,-0.5L-0.38,-0.52Z","diamond","square","triangle-left"]
                  }
                }
              }
            }
          ]
        }
      ]
    }
  ]
}
